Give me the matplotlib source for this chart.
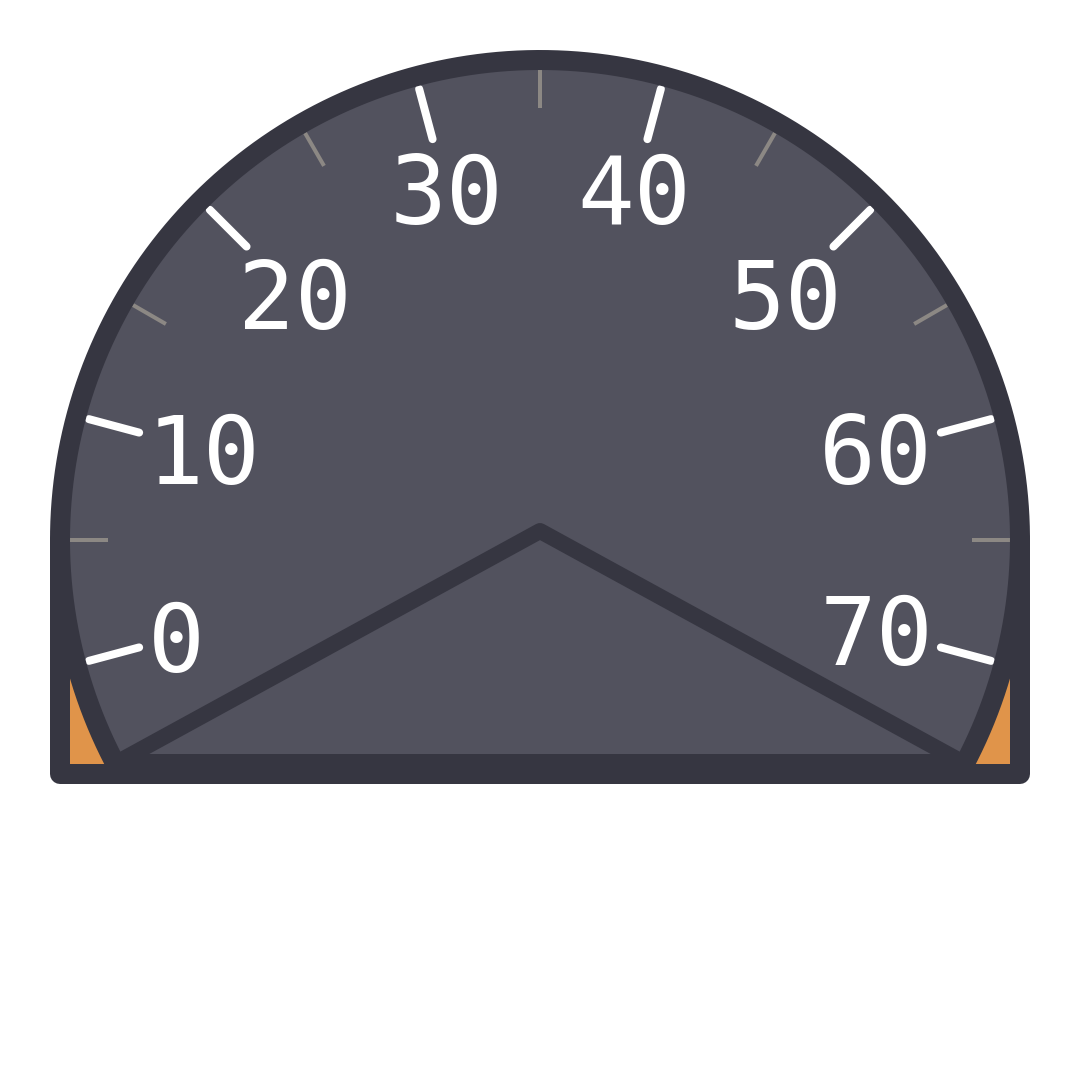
import matplotlib
matplotlib.use("Agg")
import matplotlib.pyplot as plt
from matplotlib.patches import Polygon
import numpy as np

# gauge scale
major_values = [0, 10, 20, 30, 40, 50, 60, 70]
minor_values = [5, 15, 25, 35, 45, 55, 65]
tick_labels = ["0", "10", "20", "30", "40", "50", "60", "70"]
start_angle = 195.0   # degrees where value 0 sits
deg_per_unit = 3.0

face = "#52525e"
edge = "#363641"
orange = "#e0944a"
minor_col = "#8c8884"

cx, cy, R = 540, 540, 480
bottom = 774

def px(p):
    return p * 0.72  # pixels -> points at dpi 100

def angle(v):
    return np.radians(start_angle - deg_per_unit * v)

fig = plt.figure(figsize=(10.8, 10.8), dpi=100)
ax = fig.add_axes([0, 0, 1, 1])
ax.set_xlim(0, 1080)
ax.set_ylim(1080, 0)
ax.axis("off")

# orange body behind the dial
ax.add_patch(Polygon([(60, cy), (1020, cy), (1020, bottom), (60, bottom)],
                     closed=True, facecolor=orange, edgecolor="none", zorder=1))

# dial face: circle cut at the bottom line
cut = 765
a0 = np.degrees(np.arcsin((cut - cy) / R))
th = np.radians(np.linspace(-a0, 180 + a0, 400))
pts = np.column_stack([cx + R * np.cos(th), cy - R * np.sin(th)])
ax.add_patch(Polygon(pts, closed=True, facecolor=face, edgecolor="none", zorder=2))

# outline arc and body
ax.plot(pts[:, 0], pts[:, 1], color=edge, lw=px(20), solid_capstyle="round", zorder=5)
ax.plot([60, 60, 1020, 1020], [cy, bottom, bottom, cy], color=edge,
        lw=px(20), solid_capstyle="round", solid_joinstyle="round", zorder=5)

# minor ticks
for v in minor_values:
    a = angle(v)
    ax.plot([cx + 432 * np.cos(a), cx + 470 * np.cos(a)],
            [cy - 432 * np.sin(a), cy - 470 * np.sin(a)],
            color=minor_col, lw=px(4), solid_capstyle="butt", zorder=3)

# major ticks and labels
fs = 68
em = fs / 0.72
for v, lab in zip(major_values, tick_labels):
    a = angle(v)
    ax.plot([cx + 415 * np.cos(a), cx + 467 * np.cos(a)],
            [cy - 415 * np.sin(a), cy - 467 * np.sin(a)],
            color="white", lw=px(8), solid_capstyle="round", zorder=3)
    w = 52 + 58 * (len(lab) - 1)
    h = 68
    ext = w / 2 * abs(np.cos(a)) + h / 2 * abs(np.sin(a))
    r = 410 - ext
    x = cx + r * np.cos(a)
    y = cy - r * np.sin(a)
    ax.text(x, y + 0.729 * em / 2, lab, ha="center", va="baseline",
            fontsize=fs, color="white", family="DejaVu Sans Mono", zorder=4)

# pointer
ax.add_patch(Polygon([(118, 762), (540, 531), (962, 762)], closed=True,
                     facecolor=face, edgecolor=edge, lw=px(16),
                     joinstyle="round", zorder=4))

fig.savefig("out.png", dpi=100, facecolor="white")
